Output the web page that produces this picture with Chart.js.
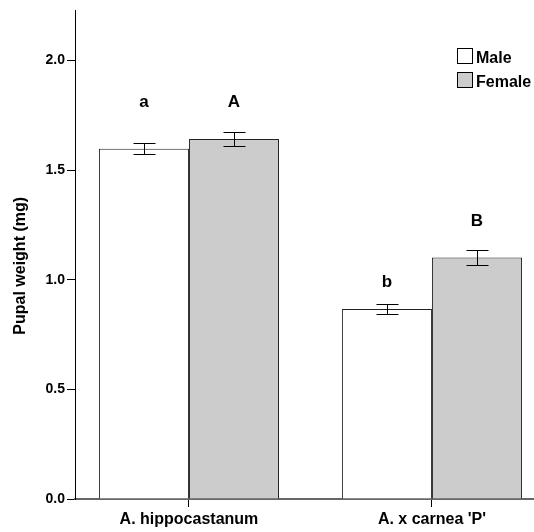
<!DOCTYPE html>
<html>
<head>
<meta charset="utf-8">
<script src="https://cdn.jsdelivr.net/npm/chart.js@4/dist/chart.umd.min.js"></script>
<style>
  body { margin: 0; background: #fff; }
  #wrap { width: 534px; height: 532px; }
</style>
</head>
<body>
<div id="wrap"><canvas id="pupaChart" width="534" height="532"></canvas></div>
<script>
// data
const categories = ["A. hippocastanum", "A. x carnea 'P'"];
const categoryPos = [1, 2];
const maleMean = [1.597, 0.866];
const maleSE = [0.026, 0.022];
const femaleMean = [1.642, 1.101];
const femaleSE = [0.032, 0.036];
const maleLetters = ["a", "b"];
const femaleLetters = ["A", "B"];
const maleLetterY = [1.786, 0.966];
const femaleLetterY = [1.786, 1.244];
const yTicks = [0, 0.5, 1.0, 1.5, 2.0];

const FONT = "'Liberation Sans', Arial, sans-serif";

function points(vals) {
    return vals.map(function (v, i) {
        return { x: categoryPos[i], y: v };
    });
}

// error bars + significance letters
const errorBars = {
    id: "errorBars",
    afterDatasetsDraw(chart) {
        const ctx = chart.ctx;
        const yScale = chart.scales.y;
        ctx.save();
        chart.data.datasets.forEach(function (ds, di) {
            const meta = chart.getDatasetMeta(di);
            meta.data.forEach(function (bar, i) {
                const m = ds.data[i].y;
                const se = ds.se[i];
                const x = Math.round(bar.x) + 0.5;
                const yHi = Math.round(yScale.getPixelForValue(m + se)) + 0.5;
                const yLo = Math.round(yScale.getPixelForValue(m - se)) + 0.5;
                ctx.strokeStyle = "#000";
                ctx.lineWidth = 1;
                ctx.beginPath();
                ctx.moveTo(x, yHi);
                ctx.lineTo(x, yLo);
                ctx.moveTo(x - 11, yHi);
                ctx.lineTo(x + 11, yHi);
                ctx.moveTo(x - 11, yLo);
                ctx.lineTo(x + 11, yLo);
                ctx.stroke();

                ctx.fillStyle = "#000";
                ctx.font = "bold 17px " + FONT;
                ctx.textAlign = "center";
                ctx.textBaseline = "alphabetic";
                ctx.fillText(ds.letters[i], bar.x, yScale.getPixelForValue(ds.letterY[i]));
            });
        });
        ctx.restore();
    },
};

// legend box in the top right corner
const cornerLegend = {
    id: "cornerLegend",
    afterDraw(chart) {
        const ctx = chart.ctx;
        ctx.save();
        chart.data.datasets.forEach(function (ds, i) {
            const top = 48 + i * 24;
            ctx.fillStyle = ds.backgroundColor;
            ctx.fillRect(457, top, 15, 15);
            ctx.strokeStyle = "#000";
            ctx.lineWidth = 1;
            ctx.strokeRect(457.5, top + 0.5, 15, 15);
            ctx.fillStyle = "#000";
            ctx.font = "bold 16px " + FONT;
            ctx.textAlign = "left";
            ctx.textBaseline = "alphabetic";
            ctx.fillText(ds.label, 476, top + 15);
        });
        ctx.restore();
    },
};

new Chart(document.getElementById("pupaChart"), {
    type: "bar",
    data: {
        datasets: [
            {
                label: "Male",
                data: points(maleMean),
                se: maleSE,
                letters: maleLetters,
                letterY: maleLetterY,
                backgroundColor: "#ffffff",
                borderColor: "#222",
                borderWidth: 1,
            },
            {
                label: "Female",
                data: points(femaleMean),
                se: femaleSE,
                letters: femaleLetters,
                letterY: femaleLetterY,
                backgroundColor: "#cccccc",
                borderColor: "#222",
                borderWidth: 1,
            },
        ],
    },
    options: {
        responsive: false,
        animation: false,
        categoryPercentage: 0.741,
        barPercentage: 1,
        layout: { padding: { top: 10, right: 0, bottom: 0, left: 0 } },
        plugins: {
            legend: { display: false },
            tooltip: { enabled: false },
        },
        scales: {
            x: {
                type: "linear",
                offset: false,
                min: 0.531,
                max: 2.42,
                afterBuildTicks: function (axis) {
                    axis.ticks = categoryPos.map(function (v) {
                        return { value: v };
                    });
                },
                afterFit: function (s) {
                    s.height = 33;
                },
                grid: {
                    offset: false,
                    drawOnChartArea: false,
                    drawTicks: true,
                    tickLength: 8,
                    color: "#000",
                },
                border: { display: true, color: "#666", width: 2 },
                ticks: {
                    autoSkip: false,
                    maxRotation: 0,
                    padding: 3,
                    color: "#000",
                    font: { family: FONT, size: 16, weight: "bold" },
                    callback: function (v, i) {
                        return categories[i];
                    },
                },
            },
            y: {
                min: 0,
                max: 2.228,
                afterBuildTicks: function (axis) {
                    axis.ticks = yTicks.map(function (v) {
                        return { value: v };
                    });
                },
                afterFit: function (s) {
                    s.width = 75;
                },
                grid: {
                    drawOnChartArea: false,
                    drawTicks: true,
                    tickLength: 8,
                    color: "#000",
                },
                border: { display: true, color: "#000", width: 1 },
                ticks: {
                    padding: 2,
                    color: "#000",
                    font: { family: FONT, size: 14, weight: "bold" },
                    callback: function (v) {
                        return Number(v).toFixed(1);
                    },
                },
                title: {
                    display: true,
                    text: "Pupal weight (mg)     ",
                    color: "#000",
                    padding: { top: 11, bottom: 0 },
                    font: { family: FONT, size: 16, weight: "bold" },
                },
            },
        },
    },
    plugins: [errorBars, cornerLegend],
});
</script>
</body>
</html>
